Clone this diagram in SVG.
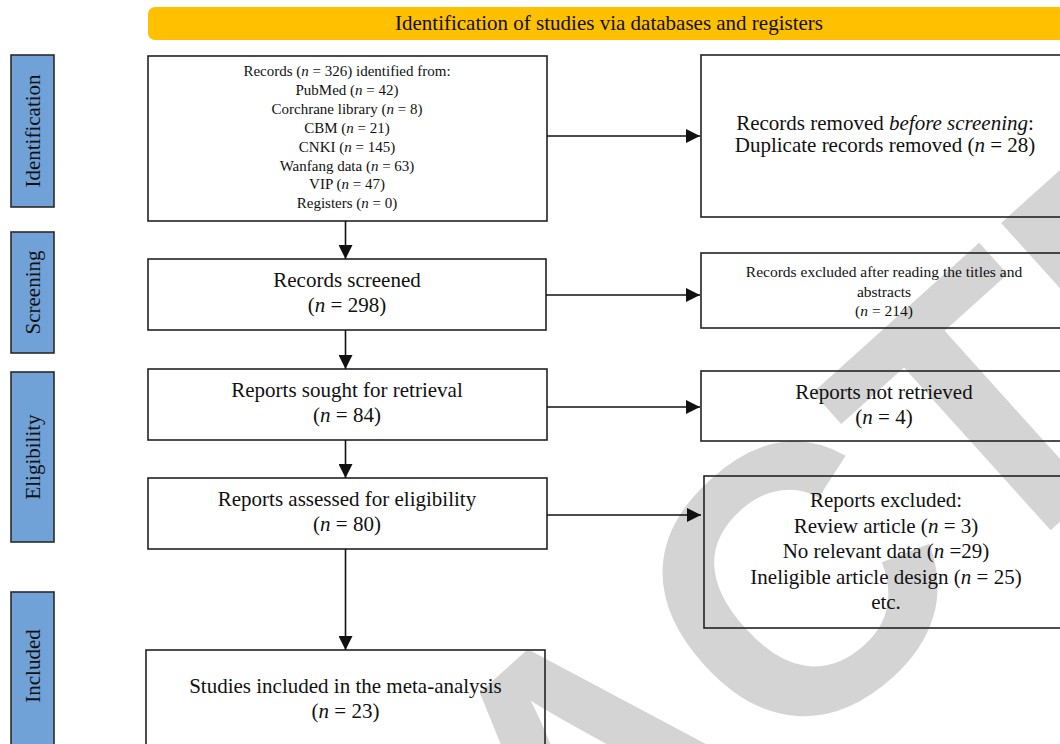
<svg xmlns="http://www.w3.org/2000/svg" width="1060" height="744" viewBox="0 0 1060 744">
<style>
.box{fill:none;stroke:#222;stroke-width:1.6}
.lab{fill:#70A1D7;stroke:#2b2b2b;stroke-width:1.6}
.t{font-family:"Liberation Serif","Times New Roman",serif;fill:#111;text-anchor:middle}
.big{font-size:21px}
.sm{font-size:15px}
.sm2{font-size:15.5px}
.conn{stroke:#111;stroke-width:1.6;fill:none}
.wm{font-family:"Liberation Sans",Arial,sans-serif;font-weight:bold;font-size:380px;fill:#d4d4d4}
</style>
<defs>
<marker id="ah" markerUnits="userSpaceOnUse" markerWidth="14" markerHeight="14" refX="14" refY="7" orient="auto">
<path d="M0,0 L14,7 L0,14 Z" fill="#111"/>
</marker>
</defs>
<rect width="1060" height="744" fill="#fff"/>
<g id="watermark">
<text class="wm" transform="translate(-191.9,1649) rotate(-42)">RETRACTED</text>
</g>
<g id="title">
<rect x="148" y="7" width="930" height="33" rx="7" fill="#FFC000"/>
<text class="t big" x="609" y="30">Identification of studies via databases and registers</text>
</g>
<g id="label-identification">
<rect class="lab" x="11" y="55" width="43" height="152"/>
<text class="t big" transform="translate(40,131) rotate(-90)">Identification</text>
</g>
<g id="label-screening">
<rect class="lab" x="11" y="232" width="43" height="121"/>
<text class="t big" transform="translate(40,292.5) rotate(-90)">Screening</text>
</g>
<g id="label-eligibility">
<rect class="lab" x="11" y="372" width="43" height="170"/>
<text class="t big" transform="translate(40,457) rotate(-90)">Eligibility</text>
</g>
<g id="label-included">
<rect class="lab" x="11" y="592" width="43" height="160"/>
<text class="t big" transform="translate(40,666) rotate(-90)">Included</text>
</g>
<g id="records-identified">
<rect class="box" x="148" y="56" width="399" height="165"/>
<text class="t sm" x="347" y="76">Records (<tspan font-style="italic">n</tspan> = 326) identified from:</text>
<text class="t sm" x="347" y="94.9">PubMed (<tspan font-style="italic">n</tspan> = 42)</text>
<text class="t sm" x="347" y="113.8">Corchrane library (<tspan font-style="italic">n</tspan> = 8)</text>
<text class="t sm" x="347" y="132.7">CBM (<tspan font-style="italic">n</tspan> = 21)</text>
<text class="t sm" x="347" y="151.6">CNKI (<tspan font-style="italic">n</tspan> = 145)</text>
<text class="t sm" x="347" y="170.5">Wanfang data (<tspan font-style="italic">n</tspan> = 63)</text>
<text class="t sm" x="347" y="189.4">VIP (<tspan font-style="italic">n</tspan> = 47)</text>
<text class="t sm" x="347" y="208.3">Registers (<tspan font-style="italic">n</tspan> = 0)</text>
</g>
<g id="records-screened">
<rect class="box" x="148" y="259" width="398" height="71"/>
<text class="t big" x="347" y="287">Records screened</text>
<text class="t big" x="347" y="312">(<tspan font-style="italic">n</tspan> = 298)</text>
</g>
<g id="reports-sought">
<rect class="box" x="148" y="369" width="399" height="71"/>
<text class="t big" x="347" y="397">Reports sought for retrieval</text>
<text class="t big" x="347" y="422">(<tspan font-style="italic">n</tspan> = 84)</text>
</g>
<g id="reports-assessed">
<rect class="box" x="148" y="478" width="399" height="71"/>
<text class="t big" x="347" y="506">Reports assessed for eligibility</text>
<text class="t big" x="347" y="531">(<tspan font-style="italic">n</tspan> = 80)</text>
</g>
<g id="studies-included">
<rect class="box" x="146" y="650" width="399" height="110"/>
<text class="t big" x="345.5" y="693">Studies included in the meta-analysis</text>
<text class="t big" x="345.5" y="718">(<tspan font-style="italic">n</tspan> = 23)</text>
</g>
<g id="records-removed">
<rect class="box" x="701" y="55" width="368" height="162"/>
<text class="t big" x="885" y="129.5">Records removed <tspan font-style="italic">before screening</tspan>:</text>
<text class="t big" x="885" y="152">Duplicate records removed (<tspan font-style="italic">n</tspan> = 28)</text>
</g>
<g id="records-excluded">
<rect class="box" x="701" y="253" width="368" height="75"/>
<text class="t sm2" x="884" y="277">Records excluded after reading the titles and</text>
<text class="t sm2" x="884" y="296.5">abstracts</text>
<text class="t sm2" x="884" y="316">(<tspan font-style="italic">n</tspan> = 214)</text>
</g>
<g id="reports-not-retrieved">
<rect class="box" x="701" y="371" width="368" height="70"/>
<text class="t big" x="884" y="399">Reports not retrieved</text>
<text class="t big" x="884" y="424">(<tspan font-style="italic">n</tspan> = 4)</text>
</g>
<g id="reports-excluded">
<rect class="box" x="704" y="476" width="365" height="152"/>
<text class="t big" x="886" y="507">Reports excluded:</text>
<text class="t big" x="886" y="532.5">Review article (<tspan font-style="italic">n</tspan> = 3)</text>
<text class="t big" x="886" y="558">No relevant data (<tspan font-style="italic">n</tspan> =29)</text>
<text class="t big" x="886" y="583.5">Ineligible article design (<tspan font-style="italic">n</tspan> = 25)</text>
<text class="t big" x="886" y="609">etc.</text>
</g>
<g id="connectors">
<line class="conn" x1="345.5" y1="221" x2="345.5" y2="259" marker-end="url(#ah)"/>
<line class="conn" x1="345.5" y1="330" x2="345.5" y2="369" marker-end="url(#ah)"/>
<line class="conn" x1="345.5" y1="440" x2="345.5" y2="478" marker-end="url(#ah)"/>
<line class="conn" x1="345.5" y1="549" x2="345.5" y2="650" marker-end="url(#ah)"/>
<line class="conn" x1="547" y1="136" x2="700" y2="136" marker-end="url(#ah)"/>
<line class="conn" x1="546" y1="295" x2="700" y2="295" marker-end="url(#ah)"/>
<line class="conn" x1="547" y1="407" x2="700" y2="407" marker-end="url(#ah)"/>
<line class="conn" x1="547" y1="515" x2="701" y2="515" marker-end="url(#ah)"/>
</g>
</svg>
